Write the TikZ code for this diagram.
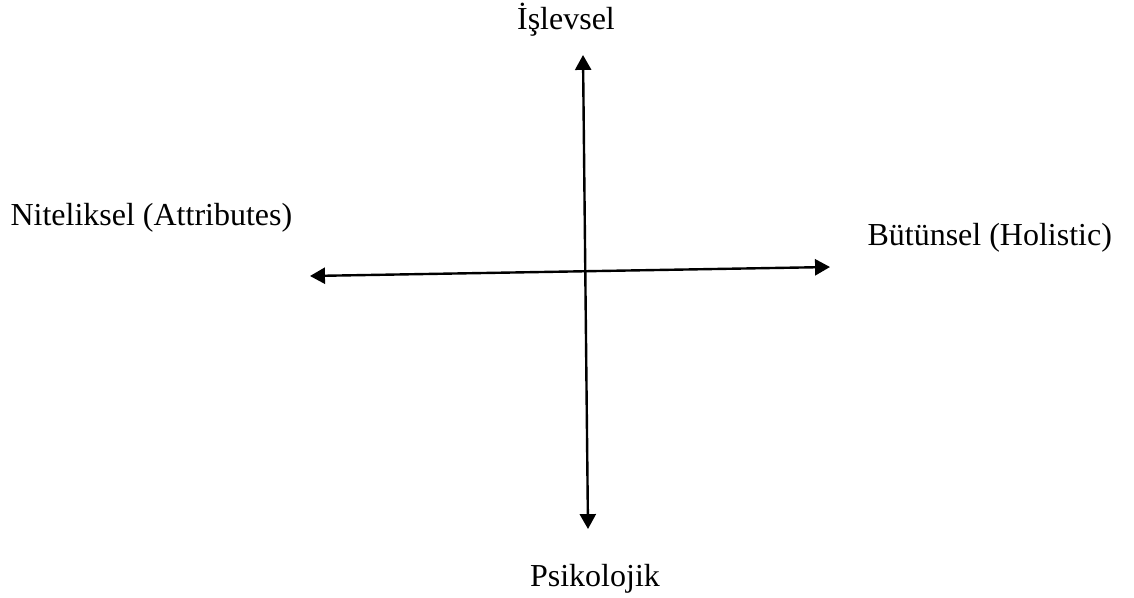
\documentclass[tikz,border=0pt]{standalone}
\usepackage{fontspec}
\setmainfont{Liberation Serif}
\usetikzlibrary{arrows.meta}

\begin{document}
\begin{tikzpicture}[
  x=0.375pt, y=-0.375pt,
  font=\fontsize{12}{14}\selectfont,
  lbl/.style={inner sep=0pt},
  axis/.style={{Triangle[length=5.6pt, width=6pt]}-{Triangle[length=5.6pt, width=6pt]}, line width=0.9pt}]
  \useasboundingbox (0,0) rectangle (1134,597);
  \coordinate (top)    at (583,55);
  \coordinate (bottom) at (588,529);
  \coordinate (left)   at (310,276);
  \coordinate (right)  at (830,267);
  \node[lbl, anchor=base]      (islevsel)   at (566,29)  {İşlevsel};
  \node[lbl, anchor=base west] (niteliksel) at (10,225)  {Niteliksel (Attributes)};
  \node[lbl, anchor=base west] (butunsel)   at (867,245) {Bütünsel (Holistic)};
  \node[lbl, anchor=base]      (psikolojik) at (595,586) {Psikolojik};
  \draw[axis] (top)  -- (bottom);
  \draw[axis] (left) -- (right);
\end{tikzpicture}
\end{document}
